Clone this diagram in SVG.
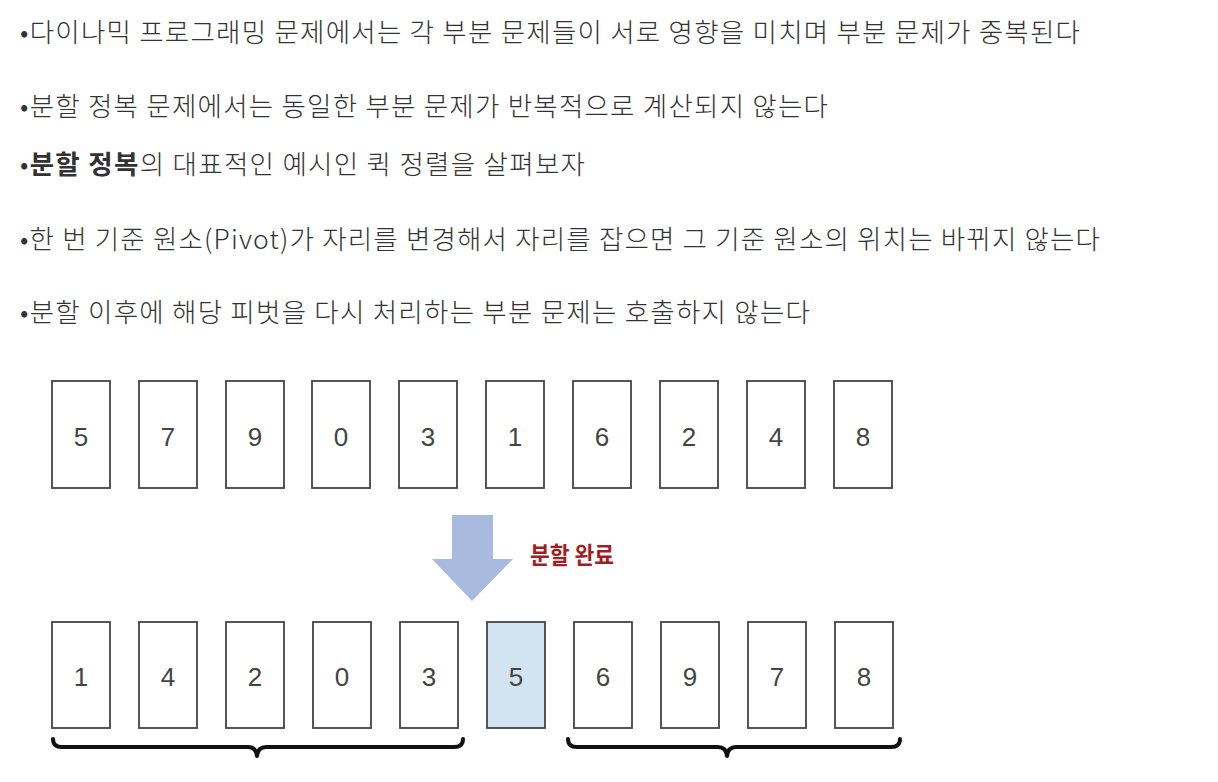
<svg xmlns="http://www.w3.org/2000/svg" width="1218" height="782" viewBox="0 0 1218 782">
<style>
.t{font-family:"Noto Sans CJK KR","Noto Sans",sans-serif;font-size:26.5px;font-weight:300;fill:#333}
.b{font-weight:700}
.card{fill:#fff;stroke:#444;stroke-width:1.8}
.pivot{fill:#d2e4f1;stroke:#444;stroke-width:1.8}
.num{font-family:"Liberation Sans",Arial,sans-serif;font-size:26px;fill:#444;text-anchor:middle}
.brace{fill:none;stroke:#111;stroke-width:4;stroke-linecap:round;stroke-linejoin:round}
.lbl{font-family:"Noto Sans CJK KR",sans-serif;font-size:24px;font-weight:700;fill:#a51d24}
</style>
<rect width="1218" height="782" fill="#fff"/>
<g id="text">
<text class="t" x="20" y="42" textLength="1060" lengthAdjust="spacing">•다이나믹 프로그래밍 문제에서는 각 부분 문제들이 서로 영향을 미치며 부분 문제가 중복된다</text>
<text class="t" x="20" y="116" textLength="808" lengthAdjust="spacing">•분할 정복 문제에서는 동일한 부분 문제가 반복적으로 계산되지 않는다</text>
<text class="t" x="20" y="174" textLength="565" lengthAdjust="spacing">•<tspan class="b">분할 정복</tspan>의 대표적인 예시인 퀵 정렬을 살펴보자</text>
<text class="t" x="20" y="249" textLength="1080" lengthAdjust="spacing">•한 번 기준 원소(Pivot)가 자리를 변경해서 자리를 잡으면 그 기준 원소의 위치는 바뀌지 않는다</text>
<text class="t" x="20" y="322" textLength="790" lengthAdjust="spacing">•분할 이후에 해당 피벗을 다시 처리하는 부분 문제는 호출하지 않는다</text>
</g>
<g id="top-row">
<g id="t1"><rect class="card" x="52" y="381" width="58" height="107"/><text class="num" x="81" y="446">5</text></g>
<g id="t2"><rect class="card" x="139" y="381" width="58" height="107"/><text class="num" x="168" y="446">7</text></g>
<g id="t3"><rect class="card" x="226" y="381" width="58" height="107"/><text class="num" x="255" y="446">9</text></g>
<g id="t4"><rect class="card" x="312" y="381" width="58" height="107"/><text class="num" x="341" y="446">0</text></g>
<g id="t5"><rect class="card" x="399" y="381" width="58" height="107"/><text class="num" x="428" y="446">3</text></g>
<g id="t6"><rect class="card" x="486" y="381" width="58" height="107"/><text class="num" x="515" y="446">1</text></g>
<g id="t7"><rect class="card" x="573" y="381" width="58" height="107"/><text class="num" x="602" y="446">6</text></g>
<g id="t8"><rect class="card" x="660" y="381" width="58" height="107"/><text class="num" x="689" y="446">2</text></g>
<g id="t9"><rect class="card" x="747" y="381" width="58" height="107"/><text class="num" x="776" y="446">4</text></g>
<g id="t10"><rect class="card" x="834" y="381" width="58" height="107"/><text class="num" x="863" y="446">8</text></g>
</g>
<g id="arrow">
<path d="M452,515 H493 V559 H513 L472,601 L432,559 H452 Z" fill="#a9badf"/>
<text class="lbl" x="530" y="564" textLength="84" lengthAdjust="spacingAndGlyphs">분할 완료</text>
</g>
<g id="bottom-row">
<g id="b1"><rect class="card" x="52" y="622" width="58" height="106"/><text class="num" x="81" y="686">1</text></g>
<g id="b2"><rect class="card" x="139" y="622" width="58" height="106"/><text class="num" x="168" y="686">4</text></g>
<g id="b3"><rect class="card" x="226" y="622" width="58" height="106"/><text class="num" x="255" y="686">2</text></g>
<g id="b4"><rect class="card" x="313" y="622" width="58" height="106"/><text class="num" x="342" y="686">0</text></g>
<g id="b5"><rect class="card" x="400" y="622" width="58" height="106"/><text class="num" x="429" y="686">3</text></g>
<g id="b6"><rect class="pivot" x="487" y="622" width="58" height="106"/><text class="num" x="516" y="686">5</text></g>
<g id="b7"><rect class="card" x="574" y="622" width="58" height="106"/><text class="num" x="603" y="686">6</text></g>
<g id="b8"><rect class="card" x="661" y="622" width="58" height="106"/><text class="num" x="690" y="686">9</text></g>
<g id="b9"><rect class="card" x="748" y="622" width="58" height="106"/><text class="num" x="777" y="686">7</text></g>
<g id="b10"><rect class="card" x="835" y="622" width="58" height="106"/><text class="num" x="864" y="686">8</text></g>
</g>
<g id="braces">
<path class="brace" d="M53,739 Q53,747 62,747 H248 Q256,747 257,756 Q258,747 266,747 H454 Q463,747 463,739"/>
<path class="brace" d="M568,739 Q568,747 577,747 H718 Q726,747 727,756 Q728,747 736,747 H891 Q900,747 900,739"/>
</g>
</svg>
